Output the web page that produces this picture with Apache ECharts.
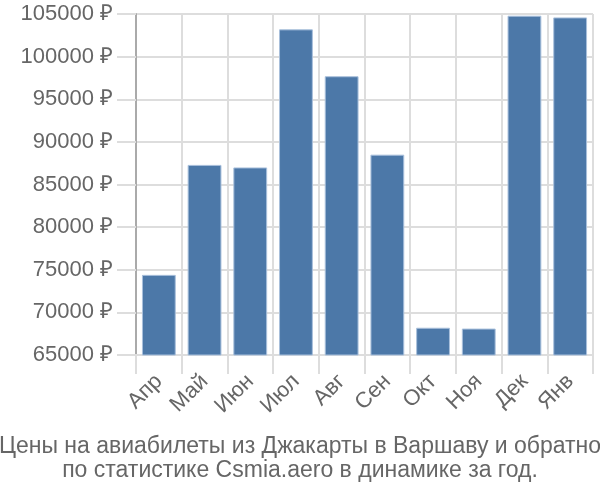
<!DOCTYPE html>
<html><head><meta charset="utf-8">
<script src="https://cdn.jsdelivr.net/npm/echarts@6/dist/echarts.min.js"></script>
<style>html,body{margin:0;padding:0;background:#fff}#c{width:600px;height:500px}</style>
</head><body><div id="c"></div>
<script>
var categories = ['Апр','Май','Июн','Июл','Авг','Сен','Окт','Ноя','Дек','Янв'];
var prices = [74400, 87300, 87000, 103200, 97700, 88500, 68200, 68100, 104800, 104600];
var yMin = 65000, yMax = 105000, yStep = 5000;
var titleLines = ['Цены на авиабилеты из Джакарты в Варшаву и обратно','по статистике Csmia.aero в динамике за год.'];

var chart = echarts.init(document.getElementById('c'), null, {renderer:'canvas'});
chart.setOption({
  animation:false,
  textStyle:{fontFamily:'Liberation Sans, Arial, sans-serif'},
  title:{
    text: titleLines.join('\n'),
    left:'center', top:430,
    textStyle:{color:'#666', fontSize:23, fontWeight:'normal', lineHeight:24, fontFamily:'Liberation Sans, Arial, sans-serif'}
  },
  grid:{left:136, right:7, top:14, bottom:145, containLabel:false},
  xAxis:{
    type:'category', data:categories, boundaryGap:true,
    axisLine:{show:true, lineStyle:{color:'#ddd', width:2}},
    axisTick:{show:true, length:19, lineStyle:{color:'#ddd', width:2}, alignWithLabel:false},
    splitLine:{show:true, lineStyle:{color:'#ddd', width:2}},
    axisLabel:{rotate:45, color:'#666', fontSize:22, margin:23, interval:0}
  },
  yAxis:{
    type:'value', min:yMin, max:yMax, interval:yStep,
    axisLine:{show:true, lineStyle:{color:'#aaa', width:2}},
    axisTick:{show:true, length:19, lineStyle:{color:'#ddd', width:2}},
    splitLine:{show:true, lineStyle:{color:'#ddd', width:2}},
    axisLabel:{color:'#666', fontSize:22, margin:23, formatter:function(v){return String(v)+' ₽';}}
  },
  series:[{
    type:'bar', data:prices, barCategoryGap:'26%',
    itemStyle:{color:'#4c78a8', borderColor:'#a9c0dc', borderWidth:1}
  }]
});
</script></body></html>
